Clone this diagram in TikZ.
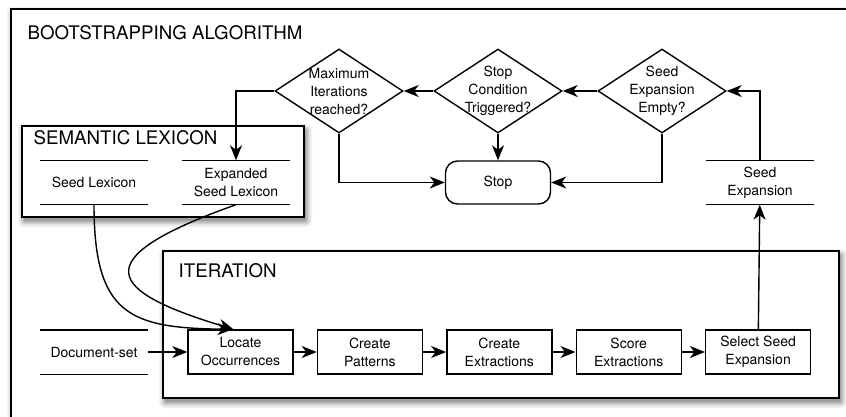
\documentclass[tikz,border=0pt]{standalone}
\usepackage{fontspec}
\setmainfont{TeX Gyre Heros}
\usetikzlibrary{arrows.meta,positioning,shapes.geometric}

% soft grey shadow below and right of a box, built from a few grey layers
\newcommand\boxshadow[2]{%
  \foreach \g/\d in {5/6,10/4.5,18/3,28/1.5,38/0}
    \fill[black!\g,rounded corners=\d pt] ([shift={(2-\d,4-\d)}]#1) rectangle ([shift={(2+\d,4+\d)}]#2);}

\begin{document}
\begin{tikzpicture}[x=1pt,y=-1pt,>={Stealth[length=15pt,width=12pt,inset=4.5pt]},line width=1.4pt,
  every node/.style={font=\fontsize{14}{18}\selectfont,align=center},
  frame/.style={draw,fill=white},
  heading/.style={anchor=west,inner sep=0pt,font=\fontsize{18.7}{22}\selectfont},
  process/.style={draw,fill=white,minimum width=105pt,minimum height=44pt,inner sep=1pt},
  store/.style={minimum width=106pt,minimum height=43pt,inner sep=0pt},
  decision/.style={draw,diamond,fill=white,minimum width=128pt,minimum height=84pt,inner xsep=-30pt,inner ysep=-22pt},
  terminal/.style={draw,rounded corners=12pt,minimum width=105pt,minimum height=43pt}]
\useasboundingbox (0,0) rectangle (846,416);

% containers
\boxshadow{11,9}{880,440}
\draw[frame] (11,9) rectangle (880,440);
\boxshadow{22,126}{304,217}
\draw[frame] (22,126) rectangle (304,217);
\boxshadow{163,251}{839,398}
\draw[frame] (163,251) rectangle (839,398);
\node[heading] (title) at (27,32.5) {BOOTSTRAPPING ALGORITHM};
\node[heading] (lextitle) at (33,138) {SEMANTIC LEXICON};
\node[heading] (itertitle) at (178,271) {ITERATION};

% checks and stop
\node[decision] (maxit) at (339,91) {Maximum\\Iterations\\reached?};
\node[decision] (stopcond) at (498,91) {Stop\\Condition\\Triggered?};
\node[decision] (empty) at (662,91) {Seed\\Expansion\\Empty?};
\node[terminal] (stop) at (498,182.5) {Stop};

% data stores
\node[store] (seedlex) at (94,182.5) {Seed Lexicon};
\node[store] (explex) at (236,182.5) {Expanded\\Seed Lexicon};
\node[store] (docset) at (94,352) {Document-set};
\node[store] (seedexp) at (760,182.5) {Seed\\Expansion};
\foreach \s in {seedlex,explex,docset,seedexp}
  \draw (\s.north west) -- (\s.north east) (\s.south west) -- (\s.south east);

% iteration steps
\node[process] (locate) at (240.5,352) {Locate\\Occurrences};
\node[process,right=23pt of locate] (patterns) {Create\\Patterns};
\node[process,right=23pt of patterns] (extract) {Create\\Extractions};
\node[process,right=23pt of extract] (score) {Score\\Extractions};
\node[process,right=23pt of score] (select) {Select Seed\\Expansion};

\draw[->] (docset) -- (locate);
\foreach \a/\b in {locate/patterns,patterns/extract,extract/score,score/select}
  \draw[->] (\a) -- (\b);
\draw[->] (select) -- (seedexp);
\draw[->] (seedexp.north) |- (empty.east);
\draw[->] (empty) -- (stopcond);
\draw[->] (stopcond) -- (maxit);
\draw[->] (maxit.west) -| (explex.north);
\draw[->] (maxit.south) |- (stop.west);
\draw[->] (stopcond) -- (stop);
\draw[->] (empty.south) |- (stop.east);
\draw[->] (seedlex.south) .. controls (94,315) and (130,328) .. ([xshift=-8pt]locate.north);
\draw[->] (explex.south) .. controls (80,260) and (110,292) .. ([xshift=-7pt]locate.north);
\end{tikzpicture}
\end{document}
